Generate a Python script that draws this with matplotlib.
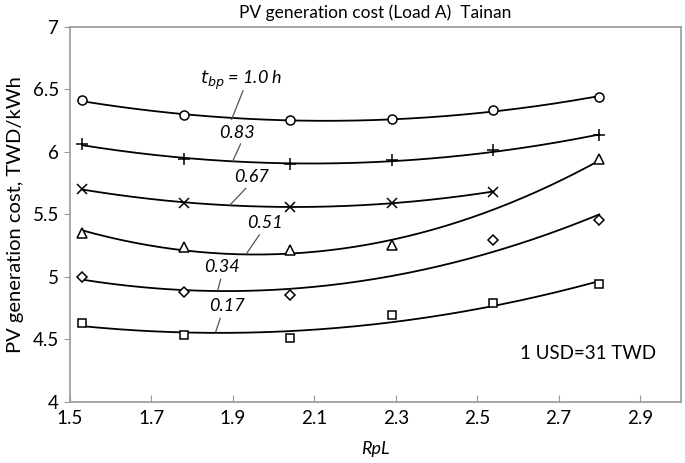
import numpy as np
import matplotlib
matplotlib.use("Agg")
import matplotlib.pyplot as plt

plt.rcParams['font.family'] = ['Lato', 'DejaVu Sans']

# RpL positions of the data points
rpl = [1.53, 1.78, 2.04, 2.29, 2.54, 2.80]

# PV generation cost (TWD/kWh) for each t_bp, None where no point is drawn
cost_100 = [6.41, 6.29, 6.25, 6.26, 6.33, 6.44]
cost_083 = [6.06, 5.94, 5.90, 5.93, 6.01, 6.13]
cost_067 = [5.70, 5.59, 5.56, 5.59, 5.68, None]
cost_051 = [5.35, 5.24, 5.21, 5.25, None, 5.94]
cost_034 = [5.00, 4.88, 4.85, None, 5.29, 5.45]
cost_017 = [4.63, 4.53, 4.51, 4.69, 4.79, 4.94]

curve_labels = ['$t_{bp}$ = 1.0 h', '0.83', '0.67', '0.51', '0.34', '0.17']

series = [
    (cost_100, 'o', 6.5),
    (cost_083, '+', 8.5),
    (cost_067, 'x', 6.5),
    (cost_051, '^', 6.5),
    (cost_034, 'D', 5.5),
    (cost_017, 's', 6),
]

fig = plt.figure(figsize=(6.85, 4.63), dpi=100)
ax = fig.add_axes([70 / 685, 1 - 401.7 / 463, 610.7 / 685, 375 / 463])

for vals, mk, ms in series:
    xs = np.array([x for x, v in zip(rpl, vals) if v is not None])
    ys = np.array([v for v in vals if v is not None])
    # quadratic trend line through the points
    coef = np.polyfit(xs, ys, 2)
    xx = np.linspace(xs.min(), xs.max(), 200)
    ax.plot(xx, np.polyval(coef, xx), color='black', lw=1.3, zorder=2)
    ax.plot(xs, ys, linestyle='none', marker=mk, ms=ms,
            mfc='white' if mk not in '+x' else 'none',
            mec='black', mew=1.1, color='black', zorder=3)

# label text position and leader line (start, end) in data units
label_pos = [
    ((1.921, 6.574), (1.925, 6.488), (1.897, 6.259)),
    ((1.910, 6.152), (1.919, 6.062), (1.899, 5.920)),
    ((1.946, 5.795), (1.932, 5.707), (1.893, 5.574)),
    ((1.979, 5.427), (1.965, 5.334), (1.934, 5.187)),
    ((1.873, 5.075), (1.870, 4.979), (1.863, 4.894)),
    ((1.886, 4.766), (1.869, 4.667), (1.858, 4.560)),
]
for txt, (tp, l0, l1) in zip(curve_labels, label_pos):
    ax.text(tp[0], tp[1], txt, fontsize=13, style='italic', ha='center', va='center')
    ax.plot([l0[0], l1[0]], [l0[1], l1[1]], color='#555555', lw=0.9, zorder=2)

ax.text(2.773, 4.385, '1 USD=31 TWD', fontsize=13.5, ha='center', va='center')

ax.set_xlim(1.5, 3.0)
ax.set_ylim(4, 7)
ax.set_xticks([1.5, 1.7, 1.9, 2.1, 2.3, 2.5, 2.7, 2.9])
ax.set_yticks([4, 4.5, 5, 5.5, 6, 6.5, 7])
ax.set_xticklabels(['1.5', '1.7', '1.9', '2.1', '2.3', '2.5', '2.7', '2.9'])
ax.set_yticklabels(['4', '4.5', '5', '5.5', '6', '6.5', '7'])
ax.tick_params(axis='x', direction='in', length=5, color='#999999', labelsize=13.5, pad=6)
ax.tick_params(axis='y', direction='out', length=4, color='#999999', labelsize=13.5, pad=4)
for s in ax.spines.values():
    s.set_color('#999999')
    s.set_linewidth(1.2)

ax.set_xlabel('RpL', fontsize=13, style='italic', labelpad=10)
ax.set_ylabel('PV generation cost, TWD/kWh', fontsize=14.5, labelpad=6)
ax.set_title('PV generation cost (Load A)  Tainan', fontsize=12.5, pad=6)

fig.savefig('out.png', dpi=100)
